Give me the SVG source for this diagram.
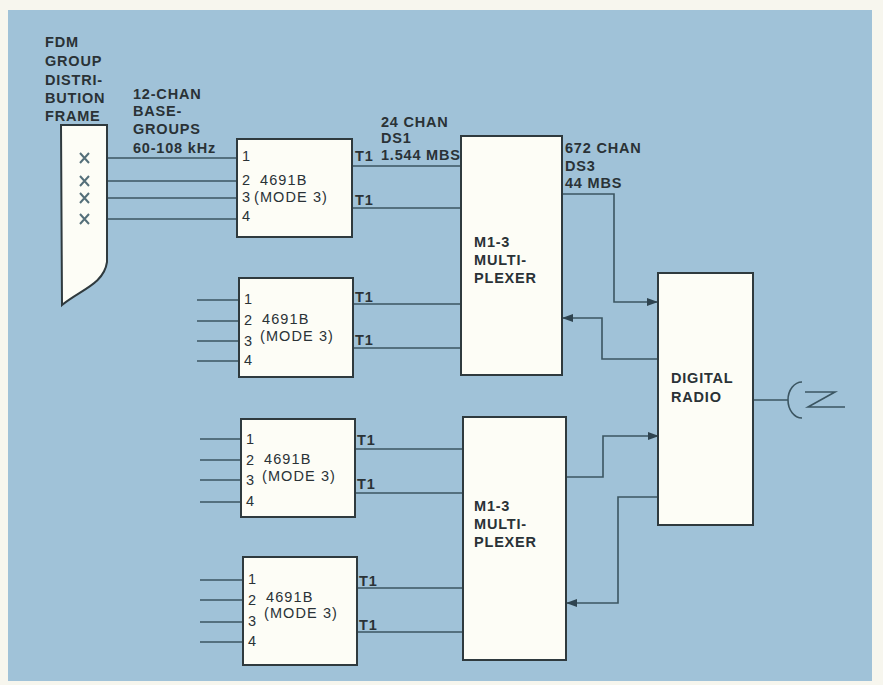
<svg xmlns="http://www.w3.org/2000/svg" width="883" height="685" viewBox="0 0 883 685">
<style>
.lbl{font-family:"Liberation Sans",Arial,sans-serif;font-size:14.5px;font-weight:bold;fill:#2a3236;letter-spacing:0.8px}
.txt{font-family:"Liberation Sans",Arial,sans-serif;font-size:14.5px;fill:#2a3236;letter-spacing:1.1px}
.box{fill:#fdfdf6;stroke:#2f3a3e;stroke-width:2}
.ln{fill:none;stroke:#3b5561;stroke-width:1.6}
.x{fill:none;stroke:#55707a;stroke-width:2}
</style>
<defs>
<marker id="ah" markerUnits="userSpaceOnUse" markerWidth="11" markerHeight="8" refX="10" refY="4" orient="auto">
<path d="M0,0 L11,4 L0,8 z" fill="#2f4450"/>
</marker>
</defs>
<rect x="0" y="0" width="883" height="685" fill="#f7f6ee"/>
<rect x="8" y="10" width="864" height="671" fill="#a0c2d8"/>

<g id="connectors">
<path class="ln" d="M86,158 H237 M86,181 H237 M86,198 H237 M86,219 H237"/>
<path class="ln" d="M352,166 H461 M352,208 H461"/>
<path class="ln" d="M197,300 H239 M197,321 H239 M197,341 H239 M197,361 H239"/>
<path class="ln" d="M353,304 H462 M353,348 H462"/>
<path class="ln" d="M200,439 H241 M200,460 H241 M200,480 H241 M200,502 H241"/>
<path class="ln" d="M355,449 H463 M355,493 H463"/>
<path class="ln" d="M200,580 H243 M200,600 H243 M200,622 H243 M200,642 H243"/>
<path class="ln" d="M357,588 H463 M357,632 H463"/>
<path class="ln" d="M562,194 H614 V302 H657" marker-end="url(#ah)"/>
<path class="ln" d="M658,359 H602 V318 H563" marker-end="url(#ah)"/>
<path class="ln" d="M565,477 H603 V436 H658" marker-end="url(#ah)"/>
<path class="ln" d="M658,497 H618 V603 H567" marker-end="url(#ah)"/>
<path class="ln" d="M753,400 H788"/>
</g>

<g id="frame">
<path class="box" d="M61,125 H107 V262 C104,284 80,290 62,305 Z"/>
<path class="x" d="M80,153 L89,163 M89,153 L80,163 M80,176 L89,186 M89,176 L80,186 M80,193 L89,203 M89,193 L80,203 M80,214 L89,224 M89,214 L80,224"/>
<text class="lbl" x="45" y="47">FDM</text>
<text class="lbl" x="45" y="66">GROUP</text>
<text class="lbl" x="45" y="85">DISTRI-</text>
<text class="lbl" x="45" y="103">BUTION</text>
<text class="lbl" x="45" y="121">FRAME</text>
</g>

<g id="basegroups-label">
<text class="lbl" x="133" y="99">12-CHAN</text>
<text class="lbl" x="133" y="116">BASE-</text>
<text class="lbl" x="133" y="134">GROUPS</text>
<text class="lbl" x="133" y="153">60-108 kHz</text>
</g>

<g id="ch4691b-1">
<rect class="box" x="237" y="139" width="115" height="98"/>
<text class="txt" x="242" y="161">1</text>
<text class="txt" x="242" y="185">2</text>
<text class="txt" x="242" y="202">3</text>
<text class="txt" x="242" y="221">4</text>
<text class="txt" x="260" y="185">4691B</text>
<text class="txt" x="254" y="202">(MODE 3)</text>
<text class="lbl" x="355" y="161">T1</text>
<text class="lbl" x="355" y="205">T1</text>
</g>

<g id="ds1-label">
<text class="lbl" x="381" y="127">24 CHAN</text>
<text class="lbl" x="381" y="143">DS1</text>
<text class="lbl" x="381" y="160">1.544 MBS</text>
</g>

<g id="ch4691b-2">
<rect class="box" x="239" y="278" width="114" height="99"/>
<text class="txt" x="244" y="304">1</text>
<text class="txt" x="244" y="325">2</text>
<text class="txt" x="244" y="346">3</text>
<text class="txt" x="244" y="365">4</text>
<text class="txt" x="262" y="324">4691B</text>
<text class="txt" x="260" y="341">(MODE 3)</text>
<text class="lbl" x="355" y="302">T1</text>
<text class="lbl" x="355" y="345">T1</text>
</g>

<g id="ch4691b-3">
<rect class="box" x="241" y="419" width="114" height="98"/>
<text class="txt" x="246" y="444">1</text>
<text class="txt" x="246" y="465">2</text>
<text class="txt" x="246" y="485">3</text>
<text class="txt" x="246" y="506">4</text>
<text class="txt" x="264" y="464">4691B</text>
<text class="txt" x="262" y="481">(MODE 3)</text>
<text class="lbl" x="357" y="445">T1</text>
<text class="lbl" x="357" y="489">T1</text>
</g>

<g id="ch4691b-4">
<rect class="box" x="243" y="557" width="114" height="108"/>
<text class="txt" x="248" y="584">1</text>
<text class="txt" x="248" y="605">2</text>
<text class="txt" x="248" y="626">3</text>
<text class="txt" x="248" y="646">4</text>
<text class="txt" x="266" y="602">4691B</text>
<text class="txt" x="264" y="618">(MODE 3)</text>
<text class="lbl" x="359" y="586">T1</text>
<text class="lbl" x="359" y="630">T1</text>
</g>

<g id="mux-1">
<rect class="box" x="461" y="136" width="101" height="239"/>
<text class="lbl" x="474" y="247">M1-3</text>
<text class="lbl" x="474" y="265">MULTI-</text>
<text class="lbl" x="474" y="283">PLEXER</text>
</g>

<g id="ds3-label">
<text class="lbl" x="565" y="153">672 CHAN</text>
<text class="lbl" x="565" y="171">DS3</text>
<text class="lbl" x="565" y="188">44 MBS</text>
</g>

<g id="mux-2">
<rect class="box" x="463" y="417" width="103" height="243"/>
<text class="lbl" x="474" y="511">M1-3</text>
<text class="lbl" x="474" y="529">MULTI-</text>
<text class="lbl" x="474" y="547">PLEXER</text>
</g>

<g id="digital-radio">
<rect class="box" x="658" y="273" width="95" height="252"/>
<text class="lbl" x="671" y="383">DIGITAL</text>
<text class="lbl" x="671" y="402">RADIO</text>
</g>

<g id="antenna">
<path class="ln" d="M802,382 A14,18 0 0 0 802,418"/>
<path class="ln" d="M805,392 H835 L808,407 H845"/>
</g>
</svg>
